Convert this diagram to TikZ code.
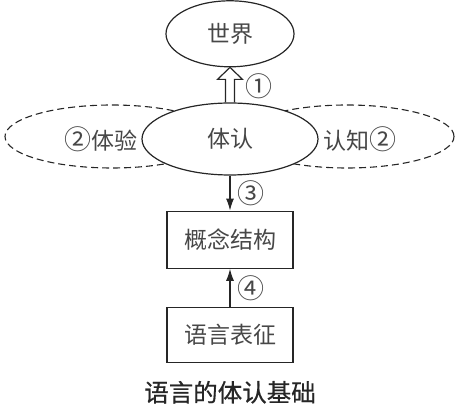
\documentclass[tikz,border=0pt]{standalone}
\usepackage{fontspec}
\setmainfont{Noto Sans CJK SC}
\newfontfamily\capfont[FakeBold=0.6]{Noto Sans CJK SC}
\usetikzlibrary{positioning,arrows.meta,shapes.geometric}

\newcommand{\circnum}[1]{{\fontsize{27}{27}\selectfont #1}}

\tikzset{
	txt/.style={text=black!72, font=\fontsize{23}{27}\selectfont, inner sep=0pt},
	ell/.style={ellipse, draw=black!85, line width=1.2pt, inner sep=0pt},
	dashell/.style={ellipse, draw=black!85, line width=1.1pt, dash pattern=on 7pt off 4pt,
		minimum width=214pt, minimum height=63pt},
	box/.style={rectangle, draw=black!85, line width=1.2pt, minimum width=126pt, txt},
	arr/.style={draw=black!85, line width=1.2pt, -{Latex[length=12pt,width=8pt]}},
	lbl/.style={txt, font=\fontsize{27}{27}\selectfont}
}

\begin{document}
\begin{tikzpicture}[x=1pt,y=1pt]
	\useasboundingbox (0,0) rectangle (464,407);
	% dashed ellipses behind
	\node[dashell] (tiyan) at (112,270.5) {};
	\node[dashell] (renzhi) at (347,270.5) {};
	\node[ell, fill=white, minimum width=176pt, minimum height=72pt, txt] (ti) at (230,268) {体认};
	\node[ell, minimum width=128pt, minimum height=66pt, txt, above=35pt of ti] (world) {世界};
	\node[txt, left=4pt of ti] (tiyantxt) {\circnum{②}体验};
	\node[txt, right=5pt of ti] (renzhitxt) {认知\circnum{②}};
	\node[box, minimum height=57pt, below=35pt of ti] (concept) {概念结构};
	\node[box, minimum height=55pt, below=38pt of concept] (lang) {语言表征};
	\node[txt, text=black!85, font=\capfont\fontsize{24.5}{28}\selectfont, below=17.75pt of lang] (cap) {语言的体认基础};
	% hollow arrow
	\draw[draw=black!85, line width=1.2pt, line join=miter]
		([xshift=-4.5pt]ti.north) |- ([xshift=-12.5pt,yshift=-12pt]world.south)
		-- (world.south) -- ([xshift=12.5pt,yshift=-12pt]world.south)
		-| ([xshift=4.5pt]ti.north);
	\node[lbl, right=15pt] (n1) at ([yshift=16pt]ti.north) {①};
	\draw[arr] (ti) -- (concept) node[lbl, midway, right=7pt] (n3) {③};
	\draw[arr] (lang) -- (concept) node[lbl, midway, right=7pt] (n4) {④};
\end{tikzpicture}
\end{document}
